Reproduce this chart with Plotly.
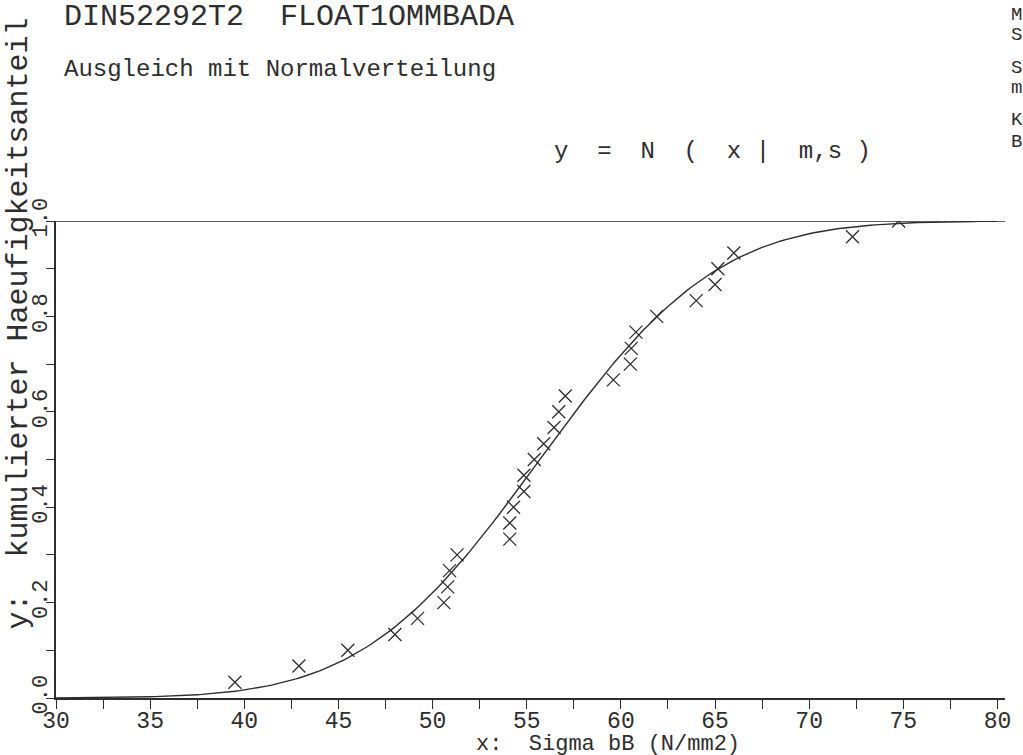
import math
import plotly.graph_objects as go

# measured points: sigma bB (N/mm2) vs cumulative frequency
sigma_bB = [39.5, 42.9, 45.5, 48.0, 49.2, 50.6, 50.8, 50.9, 51.3,
            54.1, 54.1, 54.3, 54.85, 54.85, 55.4, 55.9, 56.45, 56.7, 57.05,
            59.6, 60.5, 60.55, 60.8, 61.9, 64.0, 65.0, 65.15, 66.0,
            72.3, 74.75]
cum_freq = [0.033, 0.067, 0.100, 0.133, 0.167, 0.200, 0.233, 0.267, 0.300,
            0.333, 0.367, 0.400, 0.433, 0.467, 0.500, 0.533, 0.567, 0.600, 0.633,
            0.667, 0.700, 0.733, 0.767, 0.800, 0.833, 0.867, 0.900, 0.933,
            0.967, 1.000]

# fitted normal distribution y = N(x | m, s)
fit_m = 55.7
fit_s = 7.4

x_ticks = [30, 35, 40, 45, 50, 55, 60, 65, 70, 75, 80]
y_ticks = [0.0, 0.2, 0.4, 0.6, 0.8, 1.0]
side_letters = ["M", "S", "S", "m", "K", "B"]
side_letter_y = [1.432, 1.390, 1.321, 1.279, 1.212, 1.166]

curve_x = [30 + i * 0.25 for i in range(201)]
curve_y = [0.5 * (1 + math.erf((v - fit_m) / (fit_s * math.sqrt(2)))) for v in curve_x]

INK = "#2e2e2e"
FONT = "Liberation Mono"
nb = "\u00a0"

fig = go.Figure()
fig.add_trace(go.Scatter(x=curve_x, y=curve_y, mode="lines",
                         line=dict(color=INK, width=1.4), hoverinfo="skip"))
fig.add_trace(go.Scatter(x=sigma_bB, y=cum_freq, mode="markers",
                         marker=dict(symbol="x-thin", size=13,
                                     line=dict(color=INK, width=1.3))))
fig.add_trace(go.Scatter(x=[29.6, 80.4], y=[1.0, 1.0], mode="lines",
                         line=dict(color=INK, width=1.6), hoverinfo="skip",
                         cliponaxis=False))

fig.update_layout(
    width=1023,
    height=755,
    margin=dict(l=56, r=12, t=221, b=57),
    paper_bgcolor="white",
    plot_bgcolor="white",
    showlegend=False,
    font=dict(family=FONT, color=INK, size=24),
)
fig.update_xaxes(
    range=[30, 80.4],
    tickvals=x_ticks,
    ticks="outside", ticklen=9, tickwidth=1.3, tickcolor=INK,
    minor=dict(dtick=2.5, tick0=30, ticks="outside", ticklen=9, tickwidth=1.3, tickcolor=INK),
    showline=True, linecolor=INK, linewidth=1.8,
    showgrid=False, zeroline=False,
    ticklabelstandoff=-9,
    tickfont=dict(family=FONT, size=23, color=INK),
)
fig.update_yaxes(
    range=[0, 1],
    tickvals=y_ticks,
    ticktext=[f"{v:.1f}" for v in y_ticks],
    tickangle=-90,
    ticks="outside", ticklen=8, tickwidth=1.3, tickcolor=INK,
    minor=dict(dtick=0.1, tick0=0, ticks="outside", ticklen=8, tickwidth=1.3, tickcolor=INK),
    showline=True, linecolor=INK, linewidth=1.8,
    showgrid=False, zeroline=False,
    ticklabelstandoff=-10,
    tickfont=dict(family=FONT, size=22, color=INK),
)

def note(text, x, y, size, xanchor="left", angle=0):
    fig.add_annotation(text=text, x=x, y=y, xref="paper", yref="paper",
                       xanchor=xanchor, yanchor="middle", showarrow=False,
                       textangle=angle, font=dict(family=FONT, size=size, color=INK))

note(f"DIN52292T2{nb}{nb}FLOAT1OMMBADA", 0.006, 1.427, 30)
note("Ausgleich mit Normalverteilung", 0.006, 1.3166, 24)
note(f"y{nb}{nb}={nb}{nb}N{nb}{nb}({nb}{nb}x{nb}|{nb}{nb}m,s{nb})",
     0.5225, 1.1447, 24)
for letter, yy in zip(side_letters, side_letter_y):
    note(letter, 1.004, yy, 19)
note(f"y:{nb}{nb}kumulierter Haeufigkeitsanteil", -0.0385, 0.786, 30,
     xanchor="center", angle=-90)
note(f"x:{nb}{nb}Sigma bB (N/mm2)", 0.582, -0.0985, 22, xanchor="center")

fig.write_html("out.html",
               config={"displayModeBar": False},
               post_script="document.body.style.margin='0';"
                           "document.body.style.overflow='hidden';")
